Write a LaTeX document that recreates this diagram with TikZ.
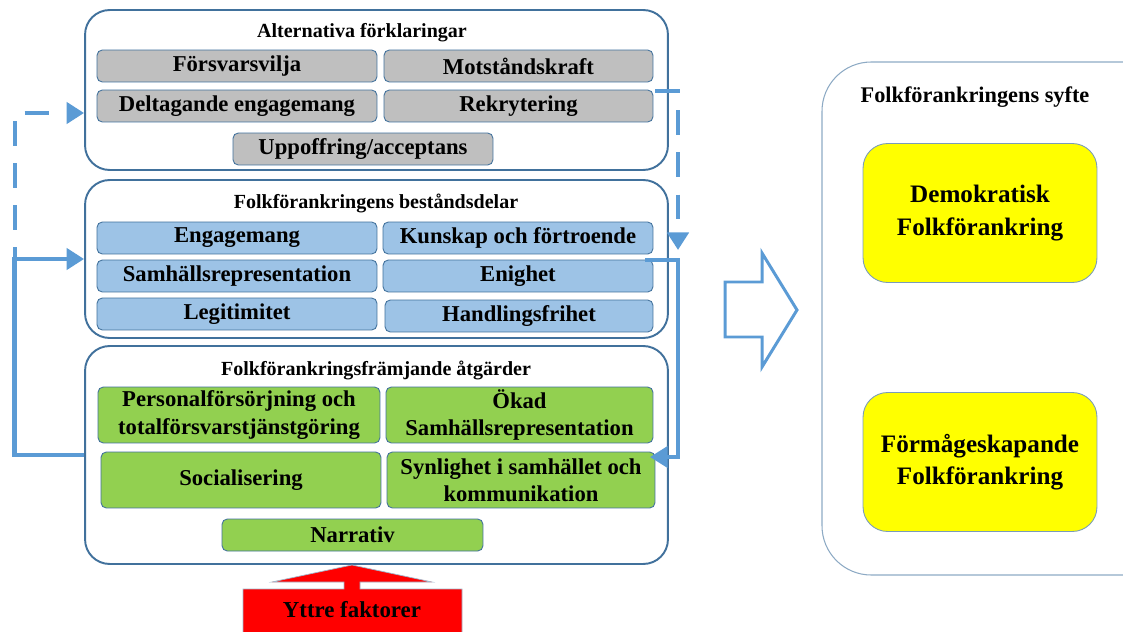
\documentclass[tikz,border=0pt]{standalone}
\usepackage{fontspec}
\setmainfont{Liberation Serif}
\usetikzlibrary{arrows.meta}
\definecolor{frameblue}{HTML}{41719C}
\definecolor{flowblue}{HTML}{5B9BD5}
\definecolor{boxgray}{HTML}{BFBFBF}
\definecolor{boxblue}{HTML}{9DC3E6}
\definecolor{boxgreen}{HTML}{92D050}
\definecolor{boxred}{HTML}{FF0000}
\definecolor{boxyellow}{HTML}{FFFF00}

\begin{document}
\begin{tikzpicture}[x=0.02cm,y=-0.02cm,
  group/.style={draw=frameblue, line width=1.1pt, rounded corners=14pt, fill=white},
  heading/.style={font=\bfseries\fontsize{11.4}{13}\selectfont},
  item/.style={draw=frameblue, line width=0.5pt, rounded corners=3pt, align=center,
    font=\bfseries\fontsize{12.9}{15.6}\selectfont, inner sep=1pt},
  grayitem/.style={item, fill=boxgray, minimum height=0.64cm},
  blueitem/.style={item, fill=boxblue, minimum height=0.64cm},
  greenitem/.style={item, fill=boxgreen, minimum height=1.12cm},
  flow/.style={draw=flowblue, line width=2.8pt, -{Triangle[length=10pt,width=12pt]}},
  dashflow/.style={flow, dash pattern=on 14pt off 10pt},
  goal/.style={draw=frameblue!70, line width=0.5pt, rounded corners=14pt, fill=boxyellow,
    align=center, font=\bfseries\fontsize{14.3}{18.5}\selectfont,
    minimum width=4.68cm, minimum height=2.78cm}]
\useasboundingbox (0,0) rectangle (1123,632);

% Alternativa forklaringar
\node[group, minimum width=11.66cm, minimum height=3.2cm] (alt) at (376.5,90) {};
\node[heading] (altT) at (362,33) {Alternativa förklaringar};
\node[grayitem, minimum width=5.6cm] (fv) at (237,66) {Försvarsvilja};
\node[grayitem, minimum width=5.38cm] (mk) at (518.5,66) {Motståndskraft};
\node[grayitem, minimum width=5.6cm] (de) at (237,106) {Deltagande engagemang};
\node[grayitem, minimum width=5.38cm] (rk) at (518.5,106) {Rekrytering};
\node[grayitem, minimum width=5.2cm] (ua) at (363,149) {Uppoffring/acceptans};

% Bestandsdelar
\node[group, minimum width=11.66cm, minimum height=3.16cm] (best) at (376.5,259) {};
\node[heading] (bestT) at (376,203) {Folkförankringens beståndsdelar};
\node[blueitem, minimum width=5.6cm] (eg) at (237,238) {Engagemang};
\node[blueitem, minimum width=5.4cm] (kf) at (518,238) {Kunskap och förtroende};
\node[blueitem, minimum width=5.6cm] (sr) at (237,276) {Samhällsrepresentation};
\node[blueitem, minimum width=5.4cm] (en) at (518,276) {Enighet};
\node[blueitem, minimum width=5.6cm] (lg) at (237,314) {Legitimitet};
\node[blueitem, minimum width=5.36cm] (hf) at (519,316) {Handlingsfrihet};

% Framjande atgarder
\node[group, minimum width=11.66cm, minimum height=4.36cm] (atg) at (376.5,455) {};
\node[heading] (atgT) at (376,370) {Folkförankringsfrämjande åtgärder};
\node[greenitem, minimum width=5.64cm] (pf) at (239,415) {Personalförsörjning och\\totalförsvarstjänstgöring};
\node[greenitem, minimum width=5.34cm] (os) at (519.5,415) {Ökad\\Samhällsrepresentation};
\node[greenitem, minimum width=5.6cm] (so) at (241,480) {Socialisering};
\node[greenitem, minimum width=5.36cm] (sy) at (521,480) {Synlighet i samhället och\\kommunikation};
\node[item, fill=boxgreen, minimum width=5.22cm, minimum height=0.64cm] (na) at (352.5,535) {Narrativ};

% Yttre faktorer
\draw[fill=boxred, draw=frameblue!50, line width=0.4pt] (243,640) -- (243,589) -- (344,589) -- (344,582)
  -- (272,582) -- (352,565) -- (432,582) -- (360,582) -- (360,589) -- (462,589) -- (462,640);
\node[font=\bfseries\fontsize{13}{15}\selectfont] (yf) at (352,610) {Yttre faktorer};

% feedback arrows
\coordinate (lb) at (15,272);
\draw[dashflow] (lb) |- ([yshift=-0.46cm]alt.west);
\draw[flow] (atg.west) -- ++(-70,0) |- (best.west);
\coordinate (rd) at (655,91);
\coordinate (rdEnd) at (678,250);
\draw[dashflow] (rd) -| (rdEnd);
\coordinate (rs) at (645,260);
\coordinate (rsEnd) at (650,457);
\draw[flow, line width=1.8pt] (rs) -- (678,260) |- (rsEnd);

% hollow arrow
\draw[flowblue, line width=1.7pt] (725,282) -- (762,282) -- (762,253) -- (797,310)
  -- (762,367) -- (762,337) -- (725,337) -- cycle;

% Syfte
\draw[frameblue!60, line width=0.6pt, rounded corners=28pt] (1140,62) -- (822,62) -- (822,575) -- (1140,575);
\node[font=\bfseries\fontsize{12.7}{14}\selectfont] (syT) at (975,97) {Folkförankringens syfte};
\node[goal] (dem) at (980,213) {Demokratisk\\Folkförankring};
\node[goal] (frm) at (980,462) {Förmågeskapande\\Folkförankring};
\end{tikzpicture}
\end{document}
